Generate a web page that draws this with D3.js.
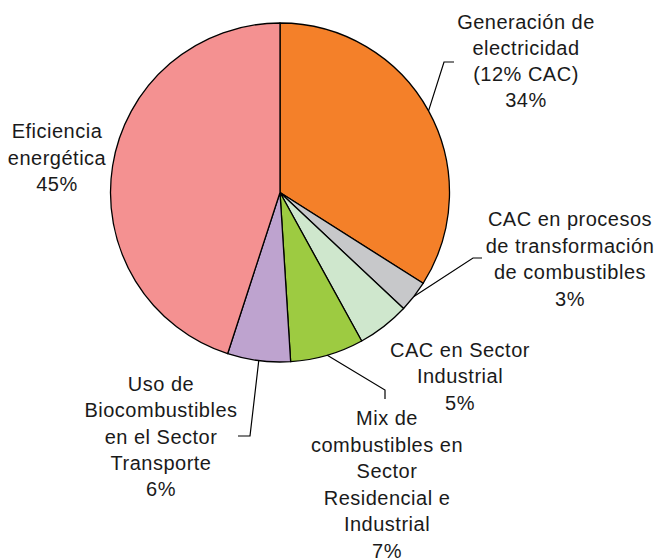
<!DOCTYPE html>
<html>
<head>
<meta charset="utf-8">
<script src="https://cdn.jsdelivr.net/npm/d3@7"></script>
<style>
  body { margin: 0; background: #fff; }
  text { font-family: "Liberation Sans", Arial, sans-serif; font-size: 20px; fill: #1a1a1a; letter-spacing: 0.5px; }
</style>
</head>
<body>
<div id="chart"></div>
<script>
var svgWidth = 658;
var svgHeight = 558;

// chart data
var categories = [
    "Generación de electricidad (12% CAC)",
    "CAC en procesos de transformación de combustibles",
    "CAC en Sector Industrial",
    "Mix de combustibles en Sector Residencial e Industrial",
    "Uso de Biocombustibles en el Sector Transporte",
    "Eficiencia energética"
];
var values = [34, 3, 5, 7, 6, 45];
var colors = ["#f48029", "#c7c8ca", "#cfe7cd", "#9dcb41", "#bea3cf", "#f49191"];

// label lines as they wrap in the picture
var labelLines = [
    ["Generación de", "electricidad", "(12% CAC)", "34%"],
    ["CAC en procesos", "de transformación", "de combustibles", "3%"],
    ["CAC en Sector", "Industrial", "5%"],
    ["Mix de", "combustibles en", "Sector", "Residencial e", "Industrial", "7%"],
    ["Uso de", "Biocombustibles", "en el Sector", "Transporte", "6%"],
    ["Eficiencia", "energética", "45%"]
];

// label placement: centre x, first baseline, line step, leader elbow and end (null = no leader)
var labelPos = [
    { x: 526, y: 29, step: 26, elbow: [444, 62], end: [454, 62] },
    { x: 570, y: 226, step: 26.5, elbow: [473, 258], end: [482, 258] },
    { x: 460, y: 357, step: 26.3, elbow: null, end: null },
    { x: 387, y: 425, step: 26.6, elbow: [385, 390], end: [385, 399] },
    { x: 161, y: 391, step: 26.3, elbow: [250, 436], end: [238, 436] },
    { x: 57, y: 138, step: 26.7, elbow: null, end: null }
];

var cx = 280, cy = 192.5, radius = 169.5;

var svg = d3.select("#chart")
    .append("svg")
    .attr("width", svgWidth)
    .attr("height", svgHeight);

var pieGroup = svg.append("g")
    .attr("transform", `translate(${cx}, ${cy})`);

var pie = d3.pie()
    .sort(null)
    .value(d => d);

var arcs = pie(values);

var arc = d3.arc()
    .innerRadius(0)
    .outerRadius(radius);

pieGroup.selectAll("path")
    .data(arcs)
    .enter()
    .append("path")
    .attr("d", arc)
    .attr("fill", (d, i) => colors[i])
    .attr("stroke", "#000")
    .attr("stroke-width", 1.3)
    .attr("stroke-linejoin", "round");

// leader lines from the middle of each slice's rim
arcs.forEach(function (d, i) {
    var p = labelPos[i];
    if (!p.elbow) return;
    var a = (d.startAngle + d.endAngle) / 2;
    var sx = cx + radius * Math.sin(a);
    var sy = cy - radius * Math.cos(a);
    svg.append("polyline")
        .attr("points", [[sx, sy], p.elbow, p.end].map(q => q.join(",")).join(" "))
        .attr("fill", "none")
        .attr("stroke", "#000")
        .attr("stroke-width", 1.2);
});

// labels
labelLines.forEach(function (lines, i) {
    var p = labelPos[i];
    var t = svg.append("text")
        .attr("text-anchor", "middle");
    lines.forEach(function (line, j) {
        t.append("tspan")
            .attr("x", p.x)
            .attr("y", p.y + j * p.step)
            .text(line);
    });
});
</script>
</body>
</html>
